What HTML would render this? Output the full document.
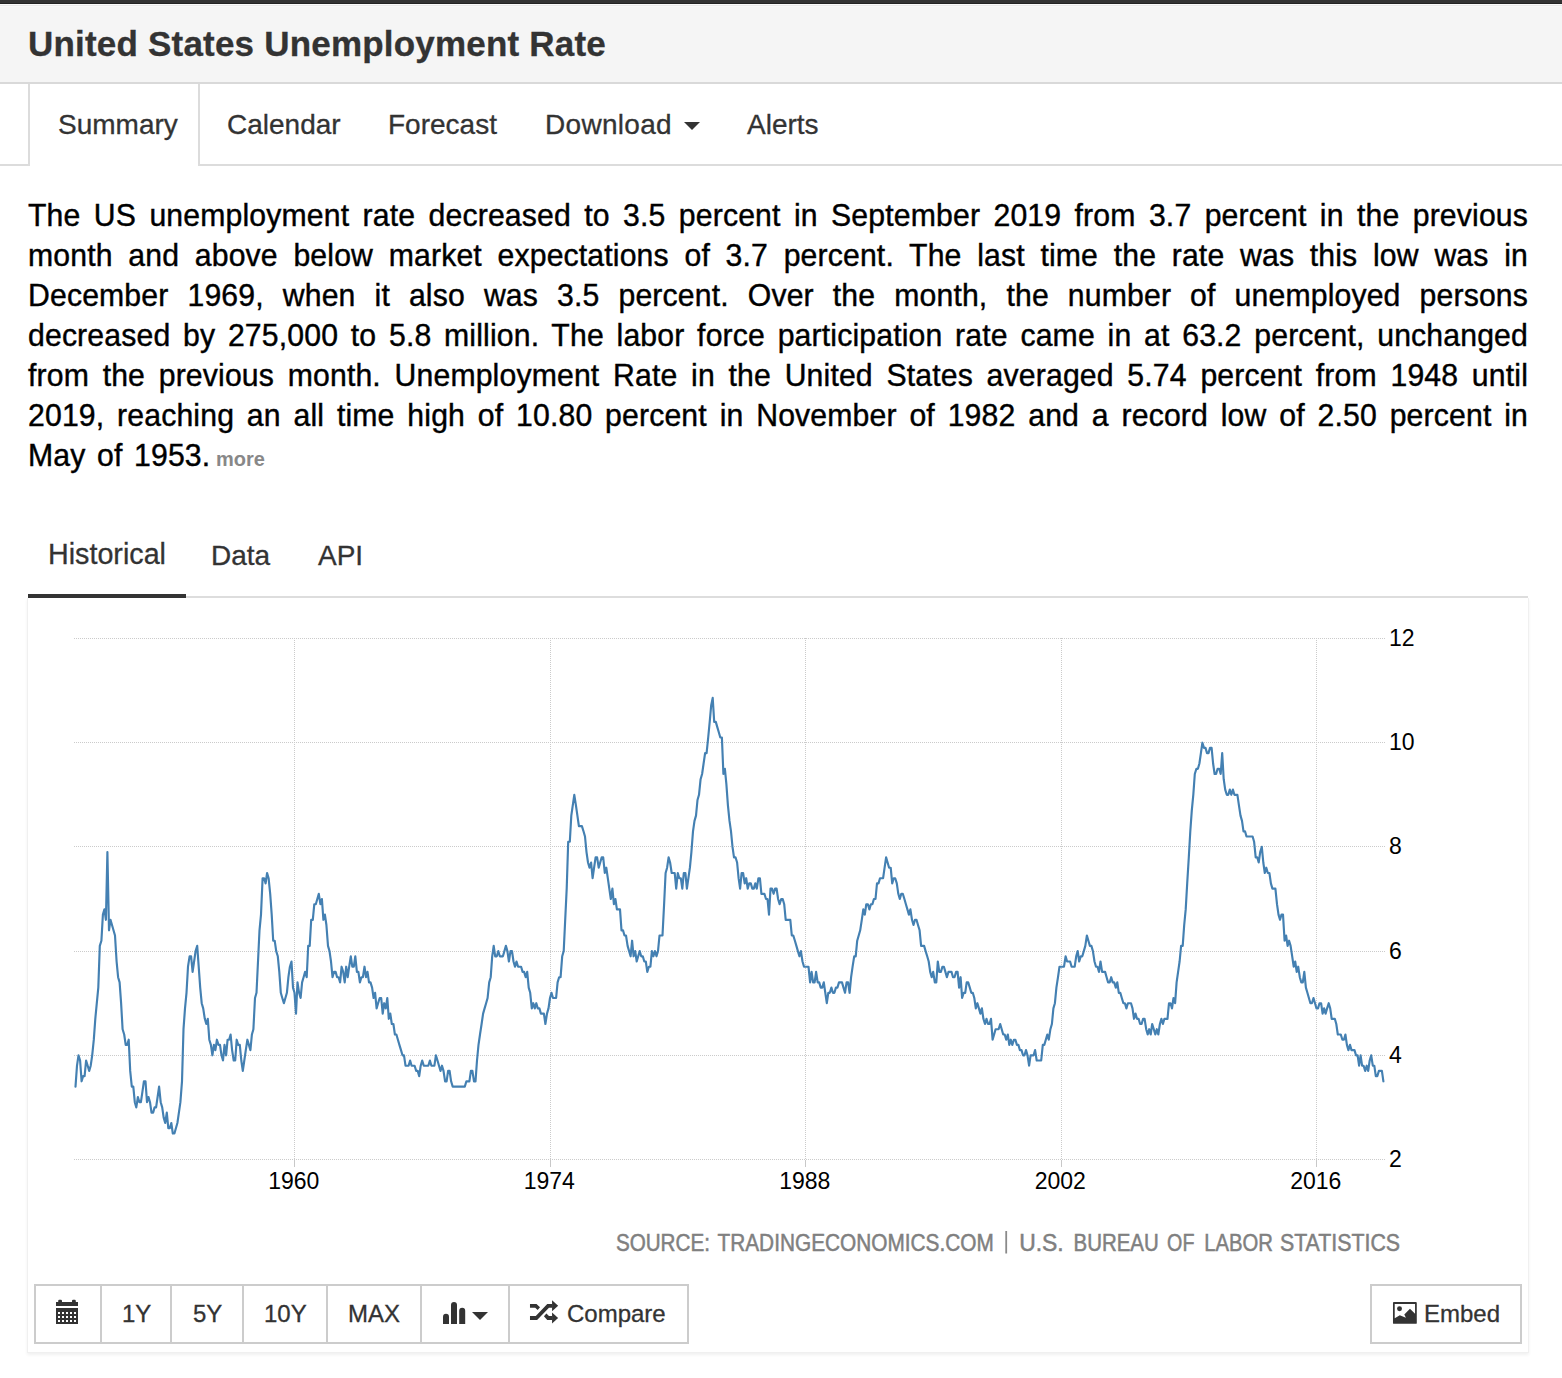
<!DOCTYPE html>
<html><head><meta charset="utf-8"><title>United States Unemployment Rate</title>
<style>
html,body{margin:0;padding:0;background:#fff;}
body{width:1562px;height:1378px;position:relative;overflow:hidden;font-family:"Liberation Sans",sans-serif;color:#333;}
.abs{position:absolute;}
#topbar{left:0;top:0;width:1562px;height:3px;background:#333;border-bottom:1px solid #232323;}
#head{left:0;top:4px;width:1562px;height:78px;background:#f5f5f5;border-bottom:2px solid #d9d9d9;}
#title{left:28px;top:24.5px;-webkit-text-stroke:0.3px #333;font-size:35px;letter-spacing:0.2px;font-weight:bold;color:#333;white-space:nowrap;line-height:38px;}
#navline{left:0;top:164px;width:1562px;height:2px;background:#dcdcdc;}
#tabactive{left:28px;top:84px;width:168px;height:82px;background:#fff;border-left:2px solid #dcdcdc;border-right:2px solid #dcdcdc;}
.tab{top:109px;-webkit-text-stroke:0.3px #333;font-size:28px;line-height:32px;white-space:nowrap;color:#333;}
.caret{width:0;height:0;border-left:8px solid transparent;border-right:8px solid transparent;border-top:8px solid #333;}
#para{left:28px;top:196px;width:1500px;font-size:30.2px;letter-spacing:0.15px;line-height:40px;color:#000;-webkit-text-stroke:0.4px #000;}
.jl{text-align:justify;text-align-last:justify;white-space:nowrap;height:40px;transform:scaleY(1.01);transform-origin:0 30.2px;}
.ll{height:40px;white-space:nowrap;transform:scaleY(1.01);transform-origin:0 30.2px;}
.more{font-size:20px;font-weight:bold;color:#888;}
.tab2{top:540px;-webkit-text-stroke:0.3px #333;font-size:28px;line-height:32px;white-space:nowrap;color:#333;}
#box{left:27px;top:598px;width:1500px;height:754px;border:1px solid #f0f0f0;border-top:none;box-shadow:0 2px 3px rgba(0,0,0,0.06);}
#hl2{left:28px;top:596px;width:1500px;height:2px;background:#ddd;}
#hl1{left:28px;top:594px;width:158px;height:4px;background:#333;}
svg{position:absolute;left:0;top:0;}
.g line{stroke:#cbcbcb;stroke-width:1;stroke-dasharray:1 1;shape-rendering:crispEdges;}
.t line{stroke:#c8c8c8;stroke-width:1;shape-rendering:crispEdges;}
.lab text{font-family:"Liberation Sans",sans-serif;font-size:23px;fill:#000;}
.src{font-family:"Liberation Sans",sans-serif;font-size:23px;fill:#808080;stroke:#808080;stroke-width:0.5px;}
.btn{top:1284px;height:56px;border:2px solid #ccc;background:#fff;box-sizing:content-box;}
.bt{transform:scaleY(1.02);transform-origin:0 22.3px;-webkit-text-stroke:0.3px #333;font-size:24px;line-height:28px;color:#333;white-space:nowrap;top:1299.5px;}
</style></head><body>
<div class="abs" id="topbar"></div>
<div class="abs" id="head"></div>
<div class="abs" style="left:0;top:4px;width:1562px;height:1px;background:#fbfbfb"></div><div class="abs" style="left:0;top:5px;width:1562px;height:1px;background:#e9e9e9"></div><div class="abs" style="left:0;top:6px;width:1562px;height:1px;background:#f8f8f8"></div>
<div class="abs" id="title">United States Unemployment Rate</div>
<div class="abs" id="navline"></div>
<div class="abs" id="tabactive"></div>
<div class="abs tab" style="left:58px">Summary</div>
<div class="abs tab" style="left:227px">Calendar</div>
<div class="abs tab" style="left:388px">Forecast</div>
<div class="abs tab" style="left:545px;letter-spacing:0.3px">Download</div>
<div class="abs caret" style="left:684px;top:122px"></div>
<div class="abs tab" style="left:747px">Alerts</div>
<div class="abs" id="para">
<div class="jl">The US unemployment rate decreased to 3.5 percent in September 2019 from 3.7 percent in the previous</div>
<div class="jl">month and above below market expectations of 3.7 percent. The last time the rate was this low was in</div>
<div class="jl">December 1969, when it also was 3.5 percent. Over the month, the number of unemployed persons</div>
<div class="jl">decreased by 275,000 to 5.8 million. The labor force participation rate came in at 63.2 percent, unchanged</div>
<div class="jl">from the previous month. Unemployment Rate in the United States averaged 5.74 percent from 1948 until</div>
<div class="jl">2019, reaching an all time high of 10.80 percent in November of 1982 and a record low of 2.50 percent in</div>
<div class="ll" style="word-spacing:3px">May of 1953.</div>
</div>
<div class="abs more" style="left:216px;top:447px;line-height:24px">more</div>
<div class="abs tab2" style="left:48px;top:538px;font-size:28.7px">Historical</div>
<div class="abs tab2" style="left:211px">Data</div>
<div class="abs tab2" style="left:318px">API</div>
<div class="abs" id="box"></div>
<div class="abs" id="hl2"></div>
<div class="abs" id="hl1"></div>
<svg width="1562" height="1378" viewBox="0 0 1562 1378">
<g class="g"><line x1="74" x2="1385" y1="638.5" y2="638.5"/><line x1="74" x2="1385" y1="742.7" y2="742.7"/><line x1="74" x2="1385" y1="846.9" y2="846.9"/><line x1="74" x2="1385" y1="951.1" y2="951.1"/><line x1="74" x2="1385" y1="1055.3" y2="1055.3"/><line x1="74" x2="1385" y1="1159.5" y2="1159.5"/><line x1="294.5" x2="294.5" y1="638" y2="1160"/><line x1="550.0" x2="550.0" y1="638" y2="1160"/><line x1="805.5" x2="805.5" y1="638" y2="1160"/><line x1="1061.0" x2="1061.0" y1="638" y2="1160"/><line x1="1316.5" x2="1316.5" y1="638" y2="1160"/></g>
<g class="t"><line x1="294.5" x2="294.5" y1="1160" y2="1167"/><line x1="550.0" x2="550.0" y1="1160" y2="1167"/><line x1="805.5" x2="805.5" y1="1160" y2="1167"/><line x1="1061.0" x2="1061.0" y1="1160" y2="1167"/><line x1="1316.5" x2="1316.5" y1="1160" y2="1167"/></g>
<path d="M75.5,1086.6 L77.0,1065.7 L78.5,1055.3 L80.1,1060.5 L81.6,1081.3 L83.1,1076.1 L84.6,1076.1 L86.1,1060.5 L87.7,1065.7 L89.2,1070.9 L90.7,1065.7 L92.2,1055.3 L93.8,1039.7 L95.3,1018.8 L96.8,1003.2 L98.3,987.6 L99.8,945.9 L101.4,940.7 L102.9,914.6 L104.4,909.4 L105.9,919.8 L107.4,852.1 L109.0,930.3 L110.5,919.8 L112.0,925.0 L113.5,930.3 L115.0,935.5 L116.6,961.5 L118.1,977.2 L119.6,982.4 L121.1,1003.2 L122.6,1029.2 L124.2,1034.5 L125.7,1044.9 L127.2,1044.9 L128.7,1039.7 L130.2,1070.9 L131.8,1086.6 L133.3,1086.6 L134.8,1102.2 L136.3,1107.4 L137.9,1097.0 L139.4,1102.2 L140.9,1102.2 L142.4,1091.8 L143.9,1081.3 L145.5,1081.3 L147.0,1102.2 L148.5,1097.0 L150.0,1102.2 L151.5,1112.6 L153.1,1112.6 L154.6,1107.4 L156.1,1107.4 L157.6,1097.0 L159.1,1086.6 L160.7,1102.2 L162.2,1107.4 L163.7,1117.8 L165.2,1123.0 L166.8,1112.6 L168.3,1128.2 L169.8,1128.2 L171.3,1123.0 L172.8,1133.5 L174.4,1133.5 L175.9,1128.2 L177.4,1123.0 L178.9,1112.6 L180.4,1102.2 L182.0,1081.3 L183.5,1029.2 L185.0,1008.4 L186.5,992.8 L188.0,966.7 L189.6,956.3 L191.1,956.3 L192.6,971.9 L194.1,961.5 L195.6,951.1 L197.2,945.9 L198.7,966.7 L200.2,987.6 L201.7,1003.2 L203.2,1008.4 L204.8,1018.8 L206.3,1024.0 L207.8,1018.8 L209.3,1039.7 L210.9,1044.9 L212.4,1055.3 L213.9,1044.9 L215.4,1050.1 L216.9,1039.7 L218.5,1044.9 L220.0,1044.9 L221.5,1055.3 L223.0,1060.5 L224.5,1044.9 L226.1,1055.3 L227.6,1039.7 L229.1,1039.7 L230.6,1034.5 L232.1,1050.1 L233.7,1060.5 L235.2,1060.5 L236.7,1039.7 L238.2,1044.9 L239.8,1044.9 L241.3,1060.5 L242.8,1070.9 L244.3,1060.5 L245.8,1050.1 L247.4,1039.7 L248.9,1044.9 L250.4,1050.1 L251.9,1034.5 L253.4,1029.2 L255.0,998.0 L256.5,992.8 L258.0,961.5 L259.5,930.3 L261.0,914.6 L262.6,878.2 L264.1,878.2 L265.6,883.4 L267.1,873.0 L268.6,878.2 L270.2,893.8 L271.7,914.6 L273.2,940.7 L274.7,940.7 L276.2,951.1 L277.8,956.3 L279.3,971.9 L280.8,992.8 L282.3,998.0 L283.9,1003.2 L285.4,998.0 L286.9,992.8 L288.4,977.2 L289.9,966.7 L291.5,961.5 L293.0,987.6 L294.5,992.8 L296.0,1013.6 L297.5,982.4 L299.1,992.8 L300.6,998.0 L302.1,982.4 L303.6,977.2 L305.1,971.9 L306.7,977.2 L308.2,945.9 L309.7,945.9 L311.2,919.8 L312.8,919.8 L314.3,904.2 L315.8,904.2 L317.3,899.0 L318.8,893.8 L320.4,904.2 L321.9,899.0 L323.4,919.8 L324.9,914.6 L326.4,925.0 L328.0,945.9 L329.5,951.1 L331.0,961.5 L332.5,977.2 L334.0,971.9 L335.6,971.9 L337.1,977.2 L338.6,977.2 L340.1,982.4 L341.6,966.7 L343.2,971.9 L344.7,982.4 L346.2,966.7 L347.7,977.2 L349.2,966.7 L350.8,956.3 L352.3,966.7 L353.8,966.7 L355.3,956.3 L356.9,971.9 L358.4,971.9 L359.9,982.4 L361.4,977.2 L362.9,977.2 L364.5,966.7 L366.0,977.2 L367.5,971.9 L369.0,982.4 L370.5,982.4 L372.1,987.6 L373.6,998.0 L375.1,992.8 L376.6,1008.4 L378.1,1003.2 L379.7,998.0 L381.2,998.0 L382.7,1013.6 L384.2,1003.2 L385.8,1008.4 L387.3,998.0 L388.8,1018.8 L390.3,1013.6 L391.8,1024.0 L393.4,1024.0 L394.9,1034.5 L396.4,1034.5 L397.9,1039.7 L399.4,1044.9 L401.0,1050.1 L402.5,1055.3 L404.0,1055.3 L405.5,1065.7 L407.0,1065.7 L408.6,1065.7 L410.1,1060.5 L411.6,1065.7 L413.1,1065.7 L414.6,1065.7 L416.2,1070.9 L417.7,1070.9 L419.2,1076.1 L420.7,1065.7 L422.2,1060.5 L423.8,1065.7 L425.3,1065.7 L426.8,1065.7 L428.3,1065.7 L429.9,1060.5 L431.4,1065.7 L432.9,1065.7 L434.4,1065.7 L435.9,1055.3 L437.5,1060.5 L439.0,1065.7 L440.5,1070.9 L442.0,1065.7 L443.5,1070.9 L445.1,1081.3 L446.6,1081.3 L448.1,1070.9 L449.6,1070.9 L451.1,1081.3 L452.7,1086.6 L454.2,1086.6 L455.7,1086.6 L457.2,1086.6 L458.8,1086.6 L460.3,1086.6 L461.8,1086.6 L463.3,1086.6 L464.8,1086.6 L466.4,1081.3 L467.9,1081.3 L469.4,1081.3 L470.9,1070.9 L472.4,1070.9 L474.0,1081.3 L475.5,1081.3 L477.0,1060.5 L478.5,1044.9 L480.0,1034.5 L481.6,1024.0 L483.1,1013.6 L484.6,1008.4 L486.1,1003.2 L487.6,998.0 L489.2,982.4 L490.7,977.2 L492.2,956.3 L493.7,945.9 L495.2,956.3 L496.8,956.3 L498.3,951.1 L499.8,956.3 L501.3,956.3 L502.9,956.3 L504.4,951.1 L505.9,945.9 L507.4,951.1 L508.9,961.5 L510.5,951.1 L512.0,951.1 L513.5,961.5 L515.0,966.7 L516.5,961.5 L518.1,966.7 L519.6,966.7 L521.1,966.7 L522.6,971.9 L524.1,971.9 L525.7,977.2 L527.2,971.9 L528.7,987.6 L530.2,992.8 L531.8,1008.4 L533.3,1003.2 L534.8,1008.4 L536.3,1003.2 L537.8,1008.4 L539.4,1008.4 L540.9,1013.6 L542.4,1013.6 L543.9,1013.6 L545.4,1024.0 L547.0,1013.6 L548.5,1008.4 L550.0,998.0 L551.5,992.8 L553.0,998.0 L554.6,998.0 L556.1,998.0 L557.6,982.4 L559.1,977.2 L560.6,977.2 L562.2,956.3 L563.7,951.1 L565.2,919.8 L566.7,888.6 L568.2,841.7 L569.8,841.7 L571.3,815.6 L572.8,805.2 L574.3,794.8 L575.9,805.2 L577.4,815.6 L578.9,826.1 L580.4,826.1 L581.9,826.1 L583.5,831.3 L585.0,836.5 L586.5,852.1 L588.0,862.5 L589.5,867.7 L591.1,862.5 L592.6,878.2 L594.1,867.7 L595.6,857.3 L597.1,857.3 L598.7,867.7 L600.2,862.5 L601.7,857.3 L603.2,857.3 L604.8,873.0 L606.3,867.7 L607.8,878.2 L609.3,888.6 L610.8,899.0 L612.4,888.6 L613.9,904.2 L615.4,899.0 L616.9,909.4 L618.4,909.4 L620.0,909.4 L621.5,930.3 L623.0,930.3 L624.5,935.5 L626.0,935.5 L627.6,945.9 L629.1,951.1 L630.6,956.3 L632.1,940.7 L633.6,956.3 L635.2,951.1 L636.7,961.5 L638.2,956.3 L639.7,951.1 L641.2,956.3 L642.8,956.3 L644.3,961.5 L645.8,961.5 L647.3,971.9 L648.9,966.7 L650.4,966.7 L651.9,951.1 L653.4,956.3 L654.9,951.1 L656.5,956.3 L658.0,951.1 L659.5,935.5 L661.0,935.5 L662.5,935.5 L664.1,904.2 L665.6,873.0 L667.1,867.7 L668.6,857.3 L670.1,862.5 L671.7,873.0 L673.2,873.0 L674.7,873.0 L676.2,888.6 L677.8,873.0 L679.3,878.2 L680.8,878.2 L682.3,888.6 L683.8,873.0 L685.4,873.0 L686.9,888.6 L688.4,878.2 L689.9,867.7 L691.4,852.1 L693.0,831.3 L694.5,820.9 L696.0,815.6 L697.5,800.0 L699.0,794.8 L700.6,779.2 L702.1,774.0 L703.6,763.5 L705.1,753.1 L706.6,753.1 L708.2,737.5 L709.7,721.9 L711.2,705.2 L712.7,697.9 L714.2,721.9 L715.8,721.9 L717.3,727.1 L718.8,732.3 L720.3,737.5 L721.9,737.5 L723.4,774.0 L724.9,768.8 L726.4,784.4 L727.9,805.2 L729.5,820.9 L731.0,831.3 L732.5,846.9 L734.0,857.3 L735.5,857.3 L737.1,862.5 L738.6,878.2 L740.1,888.6 L741.6,873.0 L743.1,873.0 L744.7,883.4 L746.2,878.2 L747.7,888.6 L749.2,883.4 L750.8,883.4 L752.3,888.6 L753.8,888.6 L755.3,883.4 L756.8,888.6 L758.4,878.2 L759.9,878.2 L761.4,893.8 L762.9,893.8 L764.4,893.8 L766.0,899.0 L767.5,899.0 L769.0,914.6 L770.5,888.6 L772.0,888.6 L773.6,893.8 L775.1,888.6 L776.6,888.6 L778.1,899.0 L779.6,904.2 L781.2,899.0 L782.7,899.0 L784.2,904.2 L785.7,919.8 L787.2,919.8 L788.8,919.8 L790.3,919.8 L791.8,935.5 L793.3,935.5 L794.9,940.7 L796.4,945.9 L797.9,951.1 L799.4,956.3 L800.9,951.1 L802.5,961.5 L804.0,966.7 L805.5,966.7 L807.0,966.7 L808.5,966.7 L810.1,982.4 L811.6,971.9 L813.1,982.4 L814.6,982.4 L816.1,971.9 L817.7,982.4 L819.2,982.4 L820.7,987.6 L822.2,987.6 L823.8,982.4 L825.3,992.8 L826.8,1003.2 L828.3,992.8 L829.8,992.8 L831.4,987.6 L832.9,992.8 L834.4,992.8 L835.9,987.6 L837.4,987.6 L839.0,982.4 L840.5,982.4 L842.0,982.4 L843.5,987.6 L845.0,992.8 L846.6,982.4 L848.1,982.4 L849.6,992.8 L851.1,977.2 L852.6,966.7 L854.2,956.3 L855.7,956.3 L857.2,940.7 L858.7,935.5 L860.2,930.3 L861.8,919.8 L863.3,909.4 L864.8,914.6 L866.3,904.2 L867.9,904.2 L869.4,909.4 L870.9,904.2 L872.4,904.2 L873.9,899.0 L875.5,899.0 L877.0,883.4 L878.5,883.4 L880.0,878.2 L881.5,878.2 L883.1,878.2 L884.6,867.7 L886.1,857.3 L887.6,862.5 L889.1,867.7 L890.7,867.7 L892.2,883.4 L893.7,878.2 L895.2,878.2 L896.8,883.4 L898.3,893.8 L899.8,899.0 L901.3,893.8 L902.8,893.8 L904.4,899.0 L905.9,904.2 L907.4,909.4 L908.9,914.6 L910.4,909.4 L912.0,919.8 L913.5,925.0 L915.0,919.8 L916.5,919.8 L918.0,925.0 L919.6,930.3 L921.1,945.9 L922.6,945.9 L924.1,945.9 L925.6,951.1 L927.2,956.3 L928.7,961.5 L930.2,971.9 L931.7,977.2 L933.2,971.9 L934.8,982.4 L936.3,982.4 L937.8,961.5 L939.3,971.9 L940.9,971.9 L942.4,966.7 L943.9,966.7 L945.4,971.9 L946.9,977.2 L948.5,971.9 L950.0,971.9 L951.5,971.9 L953.0,977.2 L954.5,977.2 L956.1,971.9 L957.6,971.9 L959.1,987.6 L960.6,977.2 L962.1,998.0 L963.7,992.8 L965.2,992.8 L966.7,982.4 L968.2,982.4 L969.8,987.6 L971.3,992.8 L972.8,992.8 L974.3,998.0 L975.8,1008.4 L977.4,1003.2 L978.9,1008.4 L980.4,1013.6 L981.9,1008.4 L983.4,1018.8 L985.0,1024.0 L986.5,1018.8 L988.0,1024.0 L989.5,1024.0 L991.0,1018.8 L992.6,1039.7 L994.1,1034.5 L995.6,1029.2 L997.1,1029.2 L998.6,1029.2 L1000.2,1024.0 L1001.7,1029.2 L1003.2,1034.5 L1004.7,1034.5 L1006.2,1039.7 L1007.8,1034.5 L1009.3,1044.9 L1010.8,1039.7 L1012.3,1044.9 L1013.9,1039.7 L1015.4,1039.7 L1016.9,1044.9 L1018.4,1044.9 L1019.9,1050.1 L1021.5,1050.1 L1023.0,1055.3 L1024.5,1055.3 L1026.0,1050.1 L1027.5,1055.3 L1029.1,1065.7 L1030.6,1055.3 L1032.1,1055.3 L1033.6,1055.3 L1035.1,1050.1 L1036.7,1060.5 L1038.2,1060.5 L1039.7,1060.5 L1041.2,1060.5 L1042.8,1044.9 L1044.3,1044.9 L1045.8,1039.7 L1047.3,1034.5 L1048.8,1039.7 L1050.4,1029.2 L1051.9,1024.0 L1053.4,1008.4 L1054.9,1003.2 L1056.4,987.6 L1058.0,977.2 L1059.5,966.7 L1061.0,966.7 L1062.5,966.7 L1064.0,966.7 L1065.6,956.3 L1067.1,961.5 L1068.6,961.5 L1070.1,961.5 L1071.6,966.7 L1073.2,966.7 L1074.7,966.7 L1076.2,956.3 L1077.7,951.1 L1079.2,961.5 L1080.8,956.3 L1082.3,956.3 L1083.8,951.1 L1085.3,945.9 L1086.9,935.5 L1088.4,940.7 L1089.9,945.9 L1091.4,945.9 L1092.9,951.1 L1094.5,961.5 L1096.0,966.7 L1097.5,966.7 L1099.0,971.9 L1100.5,961.5 L1102.1,971.9 L1103.6,971.9 L1105.1,971.9 L1106.6,977.2 L1108.1,982.4 L1109.7,982.4 L1111.2,977.2 L1112.7,982.4 L1114.2,982.4 L1115.8,987.6 L1117.3,982.4 L1118.8,992.8 L1120.3,992.8 L1121.8,998.0 L1123.4,1003.2 L1124.9,1003.2 L1126.4,1008.4 L1127.9,1003.2 L1129.4,1003.2 L1131.0,1003.2 L1132.5,1008.4 L1134.0,1018.8 L1135.5,1013.6 L1137.0,1018.8 L1138.6,1018.8 L1140.1,1024.0 L1141.6,1024.0 L1143.1,1018.8 L1144.6,1018.8 L1146.2,1029.2 L1147.7,1034.5 L1149.2,1029.2 L1150.7,1034.5 L1152.2,1024.0 L1153.8,1029.2 L1155.3,1034.5 L1156.8,1029.2 L1158.3,1034.5 L1159.9,1024.0 L1161.4,1018.8 L1162.9,1024.0 L1164.4,1018.8 L1165.9,1018.8 L1167.5,1018.8 L1169.0,1003.2 L1170.5,1003.2 L1172.0,1008.4 L1173.5,998.0 L1175.1,1003.2 L1176.6,982.4 L1178.1,971.9 L1179.6,961.5 L1181.1,945.9 L1182.7,945.9 L1184.2,925.0 L1185.7,909.4 L1187.2,883.4 L1188.8,857.3 L1190.3,831.3 L1191.8,810.4 L1193.3,794.8 L1194.8,774.0 L1196.4,768.8 L1197.9,768.8 L1199.4,763.5 L1200.9,753.1 L1202.4,742.7 L1204.0,747.9 L1205.5,747.9 L1207.0,753.1 L1208.5,753.1 L1210.0,747.9 L1211.6,747.9 L1213.1,763.5 L1214.6,774.0 L1216.1,774.0 L1217.6,768.8 L1219.2,768.8 L1220.7,774.0 L1222.2,753.1 L1223.7,779.2 L1225.2,789.6 L1226.8,794.8 L1228.3,794.8 L1229.8,789.6 L1231.3,794.8 L1232.9,789.6 L1234.4,794.8 L1235.9,794.8 L1237.4,794.8 L1238.9,805.2 L1240.5,815.6 L1242.0,820.9 L1243.5,831.3 L1245.0,831.3 L1246.5,836.5 L1248.1,836.5 L1249.6,836.5 L1251.1,836.5 L1252.6,836.5 L1254.1,841.7 L1255.7,857.3 L1257.2,857.3 L1258.7,862.5 L1260.2,852.1 L1261.8,846.9 L1263.3,862.5 L1264.8,873.0 L1266.3,867.7 L1267.8,873.0 L1269.4,873.0 L1270.9,883.4 L1272.4,888.6 L1273.9,888.6 L1275.4,888.6 L1277.0,904.2 L1278.5,914.6 L1280.0,919.8 L1281.5,914.6 L1283.0,914.6 L1284.6,940.7 L1286.1,935.5 L1287.6,945.9 L1289.1,940.7 L1290.6,945.9 L1292.2,956.3 L1293.7,966.7 L1295.2,961.5 L1296.7,971.9 L1298.2,966.7 L1299.8,977.2 L1301.3,982.4 L1302.8,982.4 L1304.3,971.9 L1305.9,987.6 L1307.4,992.8 L1308.9,998.0 L1310.4,1003.2 L1311.9,1003.2 L1313.5,998.0 L1315.0,1003.2 L1316.5,1008.4 L1318.0,1008.4 L1319.5,1003.2 L1321.1,1003.2 L1322.6,1013.6 L1324.1,1008.4 L1325.6,1013.6 L1327.1,1008.4 L1328.7,1003.2 L1330.2,1008.4 L1331.7,1018.8 L1333.2,1018.8 L1334.8,1018.8 L1336.3,1024.0 L1337.8,1034.5 L1339.3,1034.5 L1340.8,1034.5 L1342.4,1039.7 L1343.9,1039.7 L1345.4,1034.5 L1346.9,1044.9 L1348.4,1050.1 L1350.0,1044.9 L1351.5,1050.1 L1353.0,1050.1 L1354.5,1050.1 L1356.0,1055.3 L1357.6,1055.3 L1359.1,1065.7 L1360.6,1055.3 L1362.1,1065.7 L1363.6,1065.7 L1365.2,1070.9 L1366.7,1065.7 L1368.2,1070.9 L1369.7,1060.5 L1371.2,1055.3 L1372.8,1065.7 L1374.3,1065.7 L1375.8,1076.1 L1377.3,1076.1 L1378.9,1070.9 L1380.4,1070.9 L1381.9,1070.9 L1383.4,1081.3" fill="none" stroke="#4480b2" stroke-width="2.15" stroke-linejoin="round" stroke-linecap="round"/>
<g class="lab"><text x="293.8" y="1188.5" text-anchor="middle">1960</text><text x="549.3" y="1188.5" text-anchor="middle">1974</text><text x="804.8" y="1188.5" text-anchor="middle">1988</text><text x="1060.3" y="1188.5" text-anchor="middle">2002</text><text x="1315.8" y="1188.5" text-anchor="middle">2016</text><text x="1389" y="645.9">12</text><text x="1389" y="750.1">10</text><text x="1389" y="854.3">8</text><text x="1389" y="958.5">6</text><text x="1389" y="1062.7">4</text><text x="1389" y="1166.9">2</text></g>
<text class="src" x="615.9" y="1251" textLength="94.0" lengthAdjust="spacingAndGlyphs">SOURCE:</text><text class="src" x="717.5" y="1251" textLength="276.3" lengthAdjust="spacingAndGlyphs">TRADINGECONOMICS.COM</text><rect x="1005.3" y="1231" width="1.8" height="22.5" fill="#8a8a8a"/><text class="src" x="1019.2" y="1251" textLength="44.5" lengthAdjust="spacingAndGlyphs">U.S.</text><text class="src" x="1073.5" y="1251" textLength="85.2" lengthAdjust="spacingAndGlyphs">BUREAU</text><text class="src" x="1167.1" y="1251" textLength="27.3" lengthAdjust="spacingAndGlyphs">OF</text><text class="src" x="1204.2" y="1251" textLength="68.7" lengthAdjust="spacingAndGlyphs">LABOR</text><text class="src" x="1279.9" y="1251" textLength="120.2" lengthAdjust="spacingAndGlyphs">STATISTICS</text>

</svg>
<!-- buttons -->
<div class="abs btn" style="left:34px;width:651px;"></div>
<div class="abs" style="left:100px;top:1286px;width:2px;height:56px;background:#ccc"></div>
<div class="abs" style="left:170px;top:1286px;width:2px;height:56px;background:#ccc"></div>
<div class="abs" style="left:242px;top:1286px;width:2px;height:56px;background:#ccc"></div>
<div class="abs" style="left:326px;top:1286px;width:2px;height:56px;background:#ccc"></div>
<div class="abs" style="left:420px;top:1286px;width:2px;height:56px;background:#ccc"></div>
<div class="abs" style="left:508px;top:1286px;width:2px;height:56px;background:#ccc"></div>
<div class="abs bt" style="left:122px">1Y</div>
<div class="abs bt" style="left:193px">5Y</div>
<div class="abs bt" style="left:264px">10Y</div>
<div class="abs bt" style="left:348px">MAX</div>
<div class="abs caret" style="left:472px;top:1312px"></div>
<div class="abs bt" style="left:567px">Compare</div>
<div class="abs btn" style="left:1370px;width:148px;"></div>
<div class="abs bt" style="left:1424px">Embed</div>
<svg width="1562" height="1378" viewBox="0 0 1562 1378">
<!-- icons -->
<g fill="#333">
<!-- calendar -->
<path d="M56 1302h2.2v-1.1a1.1 1.1 0 0 1 1.1 -1.1h1.6a1.1 1.1 0 0 1 1.1 1.1v1.1h10v-1.1a1.1 1.1 0 0 1 1.1 -1.1h1.6a1.1 1.1 0 0 1 1.1 1.1v1.1h2.2v4h-22z"/>
<path fill-rule="evenodd" d="M56 1308h22v16h-22z M58 1312h2v2h-2z M62 1312h2v2h-2z M66 1312h2v2h-2z M70 1312h2v2h-2z M74 1312h2v2h-2z M58 1316h2v2h-2z M62 1316h2v2h-2z M66 1316h2v2h-2z M70 1316h2v2h-2z M74 1316h2v2h-2z M58 1320h2v2h-2z M62 1320h2v2h-2z M66 1320h2v2h-2z M70 1320h2v2h-2z M74 1320h2v2h-2z"/>
<!-- stats -->
<path d="M443 1324v-7.2a3 3 0 0 1 6 0v7.2z"/>
<path d="M451 1324v-19a3 3 0 0 1 6 0v19z"/>
<path d="M459.2 1324v-13.2a3 3 0 0 1 6 0v13.2z"/>
<!-- random -->
<g transform="translate(522,1292) scale(0.029028)">
<path d="M275 410H500L620 525L540 620L455 545H275z"/>
<path d="M275 830H475L870 410H1040V545H930L520 965H275z"/>
<path d="M1035 285L1245 475L1035 665z"/>
<path d="M840 740L930 830H1040V965H870L755 835z"/>
<path d="M1035 705L1245 895L1035 1085z"/>
</g>
<!-- picture -->
<g transform="translate(1385,1292) scale(0.029028)">
<path fill-rule="evenodd" d="M305 345H1065a30 30 0 0 1 30 30V1065a30 30 0 0 1 -30 30H305a30 30 0 0 1 -30 -30V375a30 30 0 0 1 30 -30z M335 410V905L510 800L720 885L665 775L860 580L1035 750V410z"/>
<circle cx="500" cy="580" r="85"/>
</g>
</g>
</svg>
</body></html>
